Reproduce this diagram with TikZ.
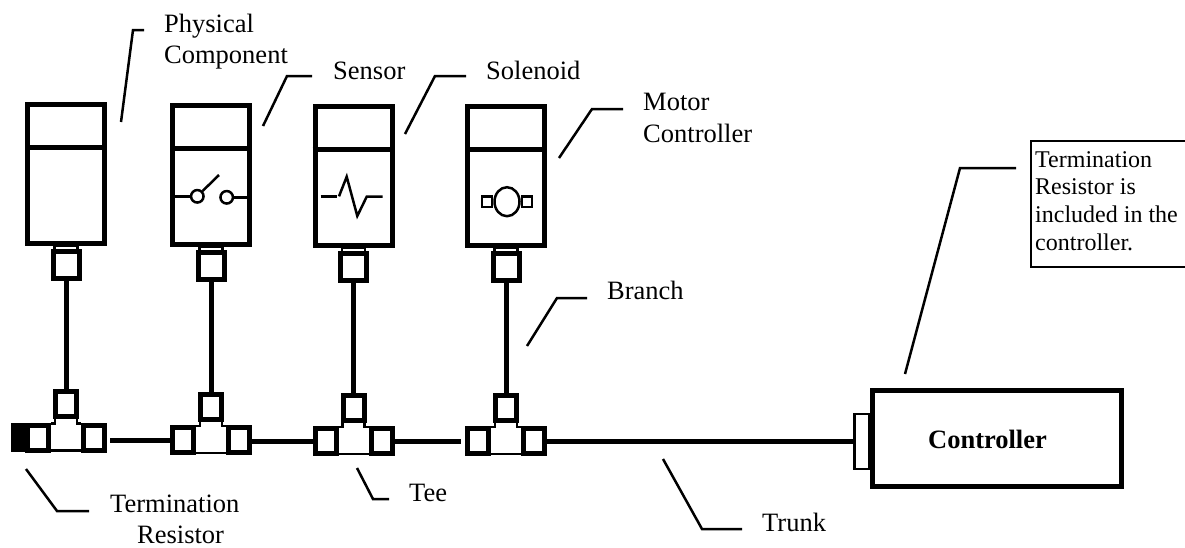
\documentclass[tikz,border=0pt]{standalone}
\usepackage{fontspec}
\setmainfont{Liberation Serif}
\usetikzlibrary{calc,positioning,shapes.geometric}

\tikzset{
  heavy/.style={line width=5pt},
  fine/.style={line width=2.5pt},
  compbox/.style={draw,heavy,minimum width=77pt,minimum height=139pt,inner sep=0pt},
  socket/.style={draw,heavy,fill=white,minimum width=26pt,minimum height=27pt,inner sep=0pt},
  port/.style={draw,heavy,fill=white,minimum width=21pt,minimum height=25pt,inner sep=0pt},
  neck/.style={draw,fine,minimum width=23pt,minimum height=6pt,inner sep=0pt},
  pin/.style={draw,fine,circle,minimum size=12.5pt,inner sep=0pt},
  lug/.style={draw,fine,minimum width=10pt,minimum height=10.5pt,inner sep=0pt},
  leader/.style={fine},
  wire/.style={heavy},
  lbl/.style={anchor=base west,inner sep=0pt,font=\fontsize{26.5}{31}\selectfont}
}

\begin{document}
\begin{tikzpicture}[x=1pt,y=-1pt]
\useasboundingbox (0,0) rectangle (1185,547);

% components with their sockets
\foreach \i/\cx/\cy/\sy in {1/66/174/264.5,2/211/175/266,3/353.5/176/267,4/506/176/267}{
  \node [compbox] (c\i) at (\cx,\cy) {};
  \draw [heavy] ([yshift=26.5pt]c\i.west) -- ([yshift=26.5pt]c\i.east);
  \node [neck] (n\i) at (\cx,\sy-16) {};
  \node [socket] (s\i) at (\cx,\sy) {};
}

% tees
\foreach \i/\cx/\cy in {1/66/404,2/211/406.5,3/353.5/407.5,4/506/407.5}{
  \node [port] (tt\i) at (\cx,\cy) {};
  \node [port] (tl\i) at (\cx-28,\cy+33.5) {};
  \node [port] (tr\i) at (\cx+28,\cy+33.5) {};
  \draw [fine] ([xshift=-11pt]tt\i.south) |- ([yshift=-1pt]tl\i.north east);
  \draw [fine] ([xshift=11pt]tt\i.south) |- ([yshift=-1pt]tr\i.north west);
  \draw [fine] ([yshift=2pt]tl\i.south east) -- ([yshift=2pt]tr\i.south west);
  \draw [wire] (s\i.south) -- (tt\i.north);
}

\node [fill=black,minimum width=16pt,minimum height=29pt,inner sep=0pt] (term) at (19,437.5) {};

% controller
\node [draw,fine,fill=white,minimum width=15pt,minimum height=55pt,inner sep=0pt] (stub) at (862,441.5) {};
\node [compbox,minimum width=249pt,minimum height=96pt] (ctrl) at (997,438.5) {};
\node [anchor=base,inner sep=0pt,font=\fontsize{26.5}{31}\selectfont\bfseries] (ctrllbl) at (987.5,448) {Controller};

% trunk
\draw [wire] ([xshift=3pt]tr1.east |- tl2.west) -- (tl2.west);
\draw [wire] (tr2.east |- tl3.west) -- (tl3.west);
\draw [wire] (tr3.east) -- ([xshift=-4pt]tl4.west);
\draw [wire] (tr4.east) -- (stub.west |- tr4.east);

% switch
\node [pin] (sw1) at (197.3,196.3) {};
\node [pin] (sw2) at (226.7,197.3) {};
\draw [fine] (sw1.west) -- (c2.west |- sw1);
\draw [fine] (sw2.east) -- (c2.east |- sw2);
\draw [fine] (sw1.north east) -- (219,175);

% pulse
\coordinate (pa) at (320.7,196.3);
\coordinate (pb) at (336.7,196.3);
\coordinate (pc) at (339,196.3);
\coordinate (pd) at (382.7,196.7);
\draw [fine] (pa) -- (pb);
\draw [fine] (pc) -- (346.7,176.7) -- (357.3,216) -- (366.7,196.7) -- (pd);

% motor
\node [draw,fine,ellipse,minimum width=25pt,minimum height=29pt,inner sep=0pt] (mot) at (507,201.7) {};
\node [lug,left=0pt of mot] (ml) {};
\node [lug,right=0pt of mot] (mr) {};

% labels
\node [lbl] (lphys) at (164,32) {Physical};
\node [lbl] (lcomp) at (164,63) {Component};
\node [lbl] (lsens) at (333,79) {Sensor};
\node [lbl] (lsol) at (486,79) {Solenoid};
\node [lbl] (lmot) at (643,110) {Motor};
\node [lbl] (lmotc) at (643,142) {Controller};
\node [lbl] (lbr) at (607,299) {Branch};
\node [lbl] (ltee) at (409,501) {Tee};
\node [lbl] (lterm) at (110,512) {Termination};
\node [lbl] (lres) at (137,543) {Resistor};
\node [lbl] (ltrunk) at (762,531) {Trunk};

% note box
\draw [fine] (1185,141) -- (1031,141) -- (1031,267) -- (1185,267);
\foreach \j/\y/\t in {1/167/Termination,2/194.5/Resistor is,3/222/included in the,4/250/controller.}
  \node [anchor=base west,inner sep=0pt,font=\fontsize{24}{28}\selectfont] (note\j) at (1035,\y) {\t};

% leaders
\foreach \n/\a/\b/\c in {
  phys/{144,30}/{133,30}/{121,122},
  sens/{312,76}/{287,76}/{263,126},
  sol/{466,76}/{435,76}/{405,134},
  mot/{623,109}/{592,109}/{559,158},
  br/{587,298}/{557,298}/{527,346},
  tee/{389,499}/{373,499}/{357,468},
  term/{89,511}/{57,511}/{26,469},
  trunk/{742,529}/{702,529}/{663,459},
  note/{1016,168}/{960,168}/{905,374}}{
  \coordinate (\n a) at (\a);
  \coordinate (\n b) at (\b);
  \coordinate (\n c) at (\c);
  \draw [leader] (\n a) -- (\n b) -- (\n c);
}

\end{tikzpicture}
\end{document}
